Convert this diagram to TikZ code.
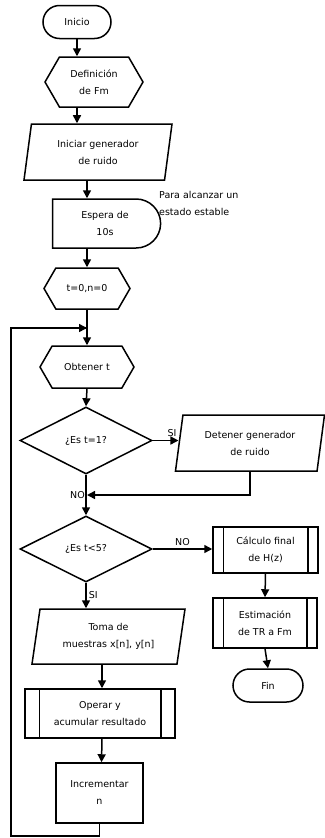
\documentclass[tikz,border=0pt]{standalone}
\usepackage{fontspec}
\setmainfont{DejaVu Sans}
\usetikzlibrary{arrows.meta,positioning,shapes.geometric,shapes.misc,shapes.symbols}

\begin{document}
\begin{tikzpicture}[
  x=1pt, y=-1pt,
  font=\fontsize{9.5}{17}\selectfont,
  every node/.style={inner sep=0pt},
  terminal/.style={draw, rounded rectangle, line width=1.5pt, align=center},
  prep/.style={draw, signal, signal to=west and east, signal pointer angle=120, line width=1.5pt, align=center},
  io/.style={draw, trapezium, trapezium left angle=73, trapezium right angle=107, trapezium stretches body, line width=1.5pt, align=center},
  delay/.style={draw, rounded rectangle, rounded rectangle west arc=none, line width=1.5pt, align=center},
  decision/.style={draw, diamond, aspect=2, line width=1.5pt, align=center},
  process/.style={draw, rectangle, line width=1.5pt, align=center},
  arrow/.style={line width=1.5pt, -{Triangle[length=8pt,width=8pt]}},
  flow/.style={line width=1.5pt}
]
\useasboundingbox (0,0) rectangle (324,838);

\node[terminal, minimum width=68pt, minimum height=33pt] (inicio) at (77,22) {Inicio};
\node[prep, minimum width=98pt, minimum height=50pt] (defin) at (94,82) {Definición\\de Fm};
\node[io, minimum width=148pt, minimum height=56pt] (iniciar) at (98,152) {Iniciar generador\\de ruido};
\node[delay, minimum width=108pt, minimum height=49pt] (espera) at (105,223.5) {Espera de\\10s};
\node[anchor=west, align=left] (nota) at (159,203) {Para alcanzar un\\estado estable};
\node[prep, minimum width=86pt, minimum height=41pt] (inic) at (87,288.5) {t=0,n=0};
\node[prep, minimum width=94pt, minimum height=42pt] (obtener) at (87,367) {Obtener t};
\node[decision, minimum width=132pt, minimum height=67pt] (esuno) at (86,440.5) {¿Es t=1?};
\node[io, minimum width=149pt, minimum height=56pt] (detener) at (250,443) {Detener generador\\de ruido};
\node[decision, minimum width=132pt, minimum height=66pt] (escinco) at (86,549) {¿Es t<5?};
\node[process, minimum width=105pt, minimum height=46pt] (calculo) at (265.5,550) {Cálculo final\\de H(z)};
\node[process, minimum width=104pt, minimum height=50pt] (estim) at (265,623) {Estimación\\de TR a Fm};
\node[terminal, minimum width=70pt, minimum height=33pt] (fin) at (268,685.5) {Fin};
\node[io, minimum width=153pt, minimum height=55pt] (toma) at (108.5,636.5) {Toma de\\muestras x[n], y[n]};
\node[process, minimum width=150pt, minimum height=49pt] (operar) at (100,713.5) {Operar y\\acumular resultado};
\node[process, minimum width=87pt, minimum height=60pt] (incr) at (99.5,793) {Incrementar\\n};

% subrutinas
\foreach \n/\d in {calculo/11, estim/11, operar/15}{
  \draw[flow] ([xshift=\d pt]\n.north west) -- ([xshift=\d pt]\n.south west);
  \draw[flow] ([xshift=-\d pt]\n.north east) -- ([xshift=-\d pt]\n.south east);
}

\coordinate (union) at (87,495);
\coordinate (retorno) at (87,328);
\coordinate (abajo) at (99.5,836);
\coordinate (izq) at (11,836);

\draw[arrow] (inicio.south) -- (inicio.south |- defin.north);
\draw[arrow] (inicio.south |- defin.south) -- (inicio.south |- iniciar.north);
\draw[arrow] (iniciar.south -| inic.north) -- (inic.north |- espera.north);
\draw[arrow] (inic.north |- espera.south) -- (inic.north);
\draw[flow] (inic.south) -- (retorno);
\draw[arrow] (retorno) -- (obtener.north);
\draw[arrow] (obtener.south) -- (esuno.north);
\draw[arrow] (esuno.east) -- (esuno.east -| detener.west) node[pos=0.75, above=3pt] (si1) {SI};
\draw[arrow] (detener.south) |- (union);
\draw[arrow] (esuno.south) -- (escinco.north);
\node[anchor=east] (no1) at ([xshift=-2pt]union) {NO};
\draw[arrow] (escinco.east) -- (escinco.east -| calculo.west) node[midway, above=3pt] (no2) {NO};
\draw[arrow] (calculo.south) -- (estim.north);
\draw[arrow] (estim.south) -- (fin.north);
\draw[arrow] (escinco.south) -- (escinco.south |- toma.north) node[midway, anchor=west, xshift=2pt] (si2) {SI};
\draw[arrow] (toma.south -| operar.north) ++(2,0) -- ([xshift=2pt]operar.north);
\draw[arrow] ([xshift=2pt]operar.south) -- ([xshift=2pt]incr.north);
\draw[flow] (incr.south) -- (abajo) -- (izq) |- (retorno);
\draw[arrow] (izq |- retorno) -- (retorno);
\end{tikzpicture}
\end{document}
